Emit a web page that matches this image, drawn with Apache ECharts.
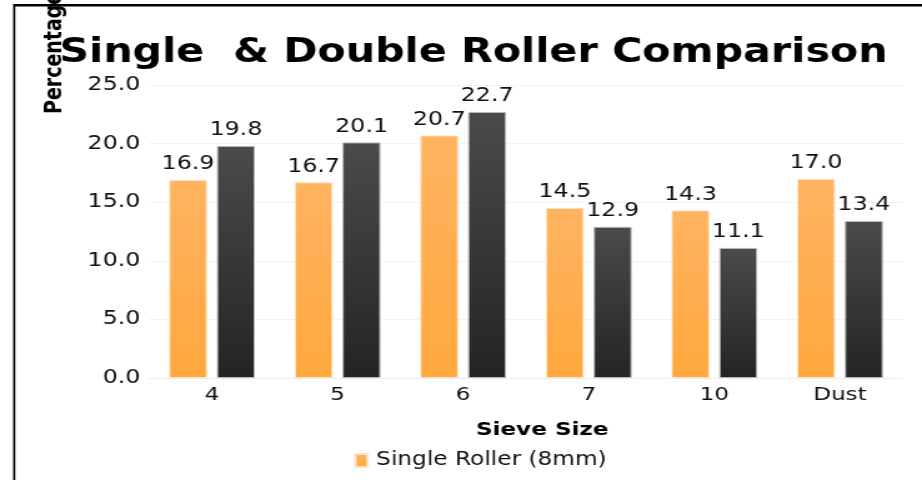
<!DOCTYPE html>
<html>
<head>
<meta charset="utf-8">
<title>Single & Double Roller Comparison</title>
<script src="https://cdn.jsdelivr.net/npm/echarts@6/dist/echarts.min.js"></script>
<style>
  html, body { margin: 0; padding: 0; background: #ffffff; overflow: hidden; }
  /* The chart is laid out on a 738px-wide canvas and widened to the 922px frame,
     which gives the broad lettering of the printed figure. */
  #chart { width: 738px; height: 480px; transform: scaleX(1.24932); transform-origin: 0 0; }
</style>
</head>
<body>
<div id="chart"></div>
<script>
// Sieve sizes on the category axis
const sieveSizes = ['4', '5', '6', '7', '10', 'Dust'];
// Percentage retained per sieve
const singleRoller = [16.9, 16.7, 20.7, 14.5, 14.3, 17.0];
const doubleRoller = [19.8, 20.1, 22.7, 12.9, 11.1, 13.4];
// Value axis range
const yMin = 0;
const yMax = 25;
const yStep = 5;

const FONT = '"DejaVu Sans", sans-serif';

const chart = echarts.init(document.getElementById('chart'), null, { renderer: 'canvas' });

const valueLabel = {
  show: true,
  position: 'top',
  distance: 6,
  color: '#111111',
  fontFamily: FONT,
  fontSize: 19,
  formatter: p => Number(p.value).toFixed(1)
};

chart.setOption({
  animation: false,
  backgroundColor: '#ffffff',
  grid: { left: 119.4, right: 15.4, top: 85, bottom: 102, containLabel: false },
  legend: {
    data: ['Single Roller (8mm)'],
    left: 278.5,
    top: 446,
    itemWidth: 9.6,
    itemHeight: 13,
    icon: 'rect',
    selectedMode: false,
    textStyle: { fontFamily: FONT, fontSize: 18.6, color: '#111111', padding: [0, 0, 0, 2] }
  },
  xAxis: {
    type: 'category',
    data: sieveSizes,
    axisLine: { show: true, lineStyle: { color: '#ececec', width: 1 } },
    axisTick: { show: false },
    axisLabel: { fontFamily: FONT, fontSize: 18.5, color: '#111111', margin: 8 },
    splitLine: { show: false }
  },
  yAxis: {
    type: 'value',
    min: yMin,
    max: yMax,
    interval: yStep,
    axisLine: { show: false },
    axisTick: { show: false },
    axisLabel: {
      fontFamily: FONT, fontSize: 19, color: '#111111', margin: 7,
      formatter: v => v.toFixed(1)
    },
    splitLine: { show: true, lineStyle: { color: '#f2f2f2', width: 1 } }
  },
  series: [
    {
      name: 'Single Roller (8mm)',
      type: 'bar',
      data: singleRoller,
      barWidth: 30.4,
      barGap: '26%',
      itemStyle: {
        color: new echarts.graphic.LinearGradient(0, 0, 0, 1, [
          { offset: 0, color: '#ffb461' },
          { offset: 1, color: '#ffa83e' }
        ]),
        borderColor: '#ffe3c2',
        borderWidth: 1
      },
      label: valueLabel
    },
    {
      name: 'Double Roller',
      type: 'bar',
      data: doubleRoller,
      barWidth: 30.4,
      barGap: '26%',
      itemStyle: {
        color: new echarts.graphic.LinearGradient(0, 0, 0, 1, [
          { offset: 0, color: '#4b4b4b' },
          { offset: 1, color: '#242424' }
        ]),
        borderColor: '#b8b8b8',
        borderWidth: 1
      },
      label: valueLabel
    }
  ],
  graphic: [
    // outer frame (top and left edges)
    { type: 'line', shape: { x1: 11.4, y1: 5.3, x2: 760, y2: 5.3 }, style: { stroke: '#000000', lineWidth: 2.5 }, silent: true },
    { type: 'line', shape: { x1: 11.4, y1: 4, x2: 11.4, y2: 490 }, style: { stroke: '#000000', lineWidth: 1.7 }, silent: true },
    // chart title
    {
      type: 'text', x: 379, y: 53,
      style: { text: 'Single  & Double Roller Comparison', fontFamily: FONT, fontWeight: 'bold', fontSize: 33, fill: '#000000', align: 'center', verticalAlign: 'middle' },
      silent: true
    },
    // value axis title
    {
      type: 'text', x: 44.5, y: 114, rotation: Math.PI / 2,
      style: { text: 'Percentage', fontFamily: FONT, fontWeight: 'bold', fontSize: 19, fill: '#000000', align: 'left', verticalAlign: 'middle' },
      silent: true
    },
    // category axis title
    {
      type: 'text', x: 434, y: 430,
      style: { text: 'Sieve Size', fontFamily: FONT, fontWeight: 'bold', fontSize: 18.5, fill: '#000000', align: 'center', verticalAlign: 'middle' },
      silent: true
    }
  ]
});
</script>
</body>
</html>
